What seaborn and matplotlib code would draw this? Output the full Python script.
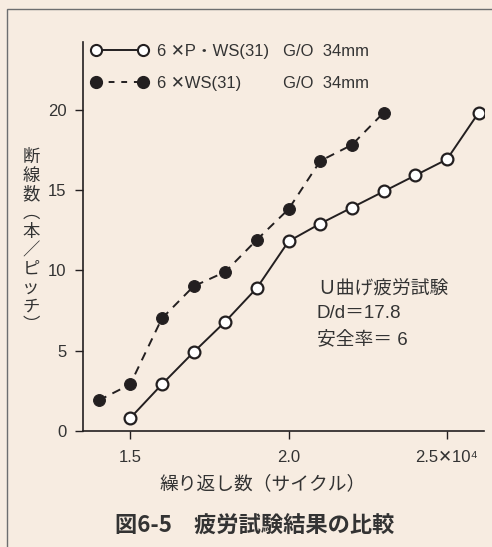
import matplotlib
matplotlib.use("Agg")
import matplotlib.pyplot as plt
import seaborn as sns
import pandas as pd
from matplotlib.patches import Rectangle
from matplotlib.lines import Line2D

# ---- data ----
x_open = [1.5, 1.6, 1.7, 1.8, 1.9, 2.0, 2.1, 2.2, 2.3, 2.4, 2.5, 2.6]
y_open = [0.8, 2.9, 4.9, 6.8, 8.9, 11.8, 12.9, 13.9, 14.9, 15.9, 16.9, 19.8]
x_fill = [1.4, 1.5, 1.6, 1.7, 1.8, 1.9, 2.0, 2.1, 2.2, 2.3]
y_fill = [1.9, 2.9, 7.0, 9.0, 9.9, 11.9, 13.8, 16.8, 17.8, 19.8]
series_labels = ["6 ✕P・WS(31)", "6 ✕WS(31)"]
series_note = "G/O  34mm"
x_ticks = [1.5, 2.0, 2.5]
x_ticklabels = ["1.5", "2.0", "2.5✕10⁴"]
y_ticks = [0, 5, 10, 15, 20]
xlabel = "繰り返し数（サイクル）"
ylabel_chars = ["断", "線", "数", "︵", "本", "／", "ピ", "ッ", "チ", "︶"]
notes = ["Ｕ曲げ疲労試験", "D/d＝17.8", "安全率＝ 6"]
title = "図6-5　疲労試験結果の比較"

BG = "#f7ece1"
INK = "#231f20"
TXT = "#333333"
LAT = ["Liberation Sans", "Noto Sans CJK JP", "DejaVu Sans"]
CJK = ["Noto Sans CJK JP", "DejaVu Sans"]

sns.set_theme(style="white")
plt.rcParams["font.family"] = LAT

W, H = 492, 547
fig = plt.figure(figsize=(W / 100, H / 100), dpi=100)
fig.patch.set_facecolor(BG)

def fx(px):
    return px / W

def fy(py):
    return 1 - py / H

# outer frame
fig.patches.append(Rectangle((fx(7), -0.05), 1.2, fy(9) + 0.05, transform=fig.transFigure,
                             fill=False, edgecolor="#6d6e70", linewidth=1.0))

ax = fig.add_axes([fx(83), fy(431), (484 - 83) / W, (431 - 42) / H])
ax.set_facecolor(BG)

df_open = pd.DataFrame({"x": x_open, "y": y_open})
df_fill = pd.DataFrame({"x": x_fill, "y": y_fill})

sns.lineplot(data=df_open, x="x", y="y", ax=ax, color=INK, linewidth=1.4, marker="o",
             markersize=8.5, markerfacecolor="white", markeredgecolor=INK, markeredgewidth=1.6,
             zorder=3)
sns.lineplot(data=df_fill, x="x", y="y", ax=ax, color=INK, linewidth=1.4, marker="o",
             markersize=8.5, markerfacecolor=INK, markeredgecolor=INK, linestyle=(0, (4.5, 3.5)),
             zorder=3)

ax.set_xlim(1.351, 2.617)
ax.set_ylim(0, 24.2)
ax.set_xticks(x_ticks)
ax.set_xticklabels(x_ticklabels)
ax.set_yticks(y_ticks)
ax.tick_params(axis="both", direction="out", length=6, width=1.0, color=INK,
               labelsize=12, labelcolor=TXT)
ax.tick_params(axis="x", pad=8)
ax.tick_params(axis="y", pad=6)
ax.xaxis.set_ticks_position("bottom")
ax.yaxis.set_ticks_position("left")
for s in ["top", "right"]:
    ax.spines[s].set_visible(False)
for s in ["left", "bottom"]:
    ax.spines[s].set_color(INK)
    ax.spines[s].set_linewidth(1.2)
ax.set_xlabel("")
ax.set_ylabel("")

# legend (drawn manually)
leg_rows = [50, 82]
for (yy, lab, face, ls) in zip(leg_rows, series_labels, ["white", INK],
                               ["-", (0, (3.0, 3.5))]):
    fig.add_artist(Line2D([fx(96), fx(143)], [fy(yy), fy(yy)], transform=fig.transFigure,
                          color=INK, linewidth=1.4, linestyle=ls, marker="o", markersize=8,
                          markerfacecolor=face, markeredgecolor=INK, markeredgewidth=1.5))
    fig.text(fx(157), fy(yy), lab, fontsize=12, color=TXT, va="center_baseline", ha="left")
    fig.text(fx(283), fy(yy), series_note, fontsize=12, color=TXT, va="center_baseline",
             ha="left")

# annotation
for yy, s in zip([290, 314, 339], notes):
    fig.text(fx(317), fy(yy), s, fontsize=13.5, color=TXT, va="center", ha="left")

# y label (vertical stacked)
fig.text(fx(31), fy(241), "\n".join(ylabel_chars), fontsize=12.5, color=TXT,
         ha="center", va="center", linespacing=1.05, family=CJK)

# x label
fig.text(fx(263), fy(484), xlabel, fontsize=13.5, color=TXT, ha="center", va="center",
         family=CJK)

# title
fig.text(fx(255), fy(526), title, fontsize=16, color=TXT, ha="center", va="center",
         fontweight="bold", family=CJK)

fig.savefig("out.png", dpi=100, facecolor=BG)
